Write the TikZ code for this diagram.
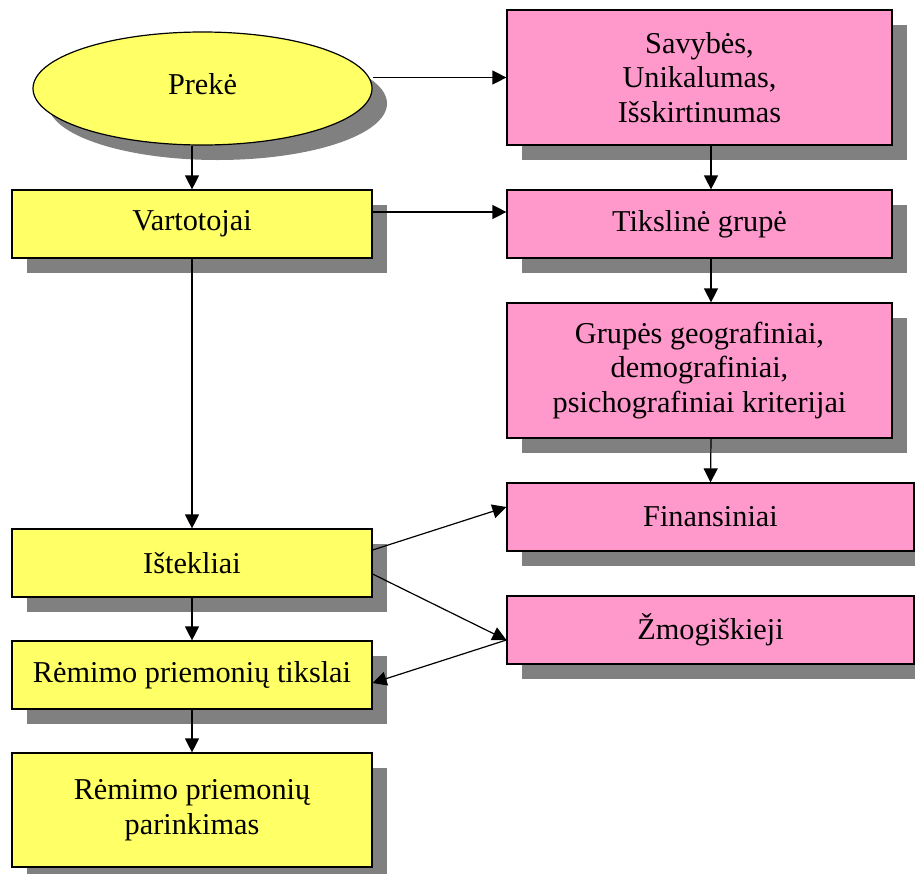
\documentclass[tikz,border=0pt]{standalone}
\usepackage{fontspec}
\setmainfont{Liberation Serif}
\usetikzlibrary{shapes.geometric,shadows,arrows.meta}
\definecolor{boxyellow}{HTML}{FFFF66}
\definecolor{boxpink}{HTML}{FF99CC}
\definecolor{shadowgray}{HTML}{808080}

\begin{document}
\begin{tikzpicture}[x=1pt,y=-1pt,
  base/.style={draw=black, line width=1.2pt,
    font=\fontsize{30.3}{34.5}\selectfont, align=center, inner sep=0pt,
    drop shadow={shadow xshift=15pt, shadow yshift=-15pt,
      fill=shadowgray, opacity=1}},
  ybox/.style={base, rectangle, fill=boxyellow},
  pbox/.style={base, rectangle, fill=boxpink},
  arr/.style={-{Triangle[length=14pt,width=14pt]}, line width=1.2pt}]

\useasboundingbox (0,0) rectangle (915,873);

% left column
\node[ybox, ellipse, minimum width=339pt, minimum height=113pt] (prek) at (202.5,88.5) {\raisebox{9pt}{Prekė}};
\node[ybox, minimum width=360pt, minimum height=68pt] (vart) at (192,224) {Vartotojai};
\node[ybox, minimum width=360pt, minimum height=68pt] (iste) at (192,563) {Ištekliai};
\node[ybox, minimum width=360pt, minimum height=68pt] (tiksl) at (192,675) {Rėmimo priemonių tikslai};
\node[ybox, minimum width=360pt, minimum height=114pt] (pari) at (192,810) {Rėmimo priemonių\\parinkimas};

% right column
\node[pbox, minimum width=385pt, minimum height=135pt] (savy) at (699.5,77.5) {Savybės,\\Unikalumas,\\Išskirtinumas};
\node[pbox, minimum width=385pt, minimum height=68pt] (tiks) at (699.5,224) {Tikslinė grupė};
\node[pbox, minimum width=385pt, minimum height=135pt] (grup) at (699.5,370.5) {Grupės geografiniai,\\demografiniai,\\psichografiniai kriterijai};
\node[pbox, minimum width=407pt, minimum height=68pt] (fin) at (710.5,517) {Finansiniai};
\node[pbox, minimum width=407pt, minimum height=68pt] (zmog) at (710.5,630) {Žmogiškieji};

% connectors
\draw[arr] (vart.north |- prek.south) -- (vart.north);
\draw[arr] (prek.east |- savy.west) -- (savy.west);
\draw[arr] ([yshift=12pt]vart.east) -- ([yshift=12pt]tiks.west);
\draw[arr] ([xshift=11.5pt]savy.south) -- ([xshift=11.5pt]tiks.north);
\draw[arr] ([xshift=11.5pt]tiks.south) -- ([xshift=11.5pt]grup.north);
\draw[arr] ([xshift=11.5pt]grup.south) -- (fin.north);
\draw[arr] (vart.south) -- (iste.north);
\draw[arr] ([yshift=13pt]iste.east) -- ([yshift=10pt]fin.west);
\draw[arr] ([yshift=-11pt]iste.east) -- ([yshift=-10pt]zmog.west);
\draw[arr] ([yshift=-10pt]zmog.west) -- ([yshift=-8pt]tiksl.east);
\draw[arr] (iste.south) -- (tiksl.north);
\draw[arr] (tiksl.south) -- (pari.north);
\end{tikzpicture}
\end{document}
